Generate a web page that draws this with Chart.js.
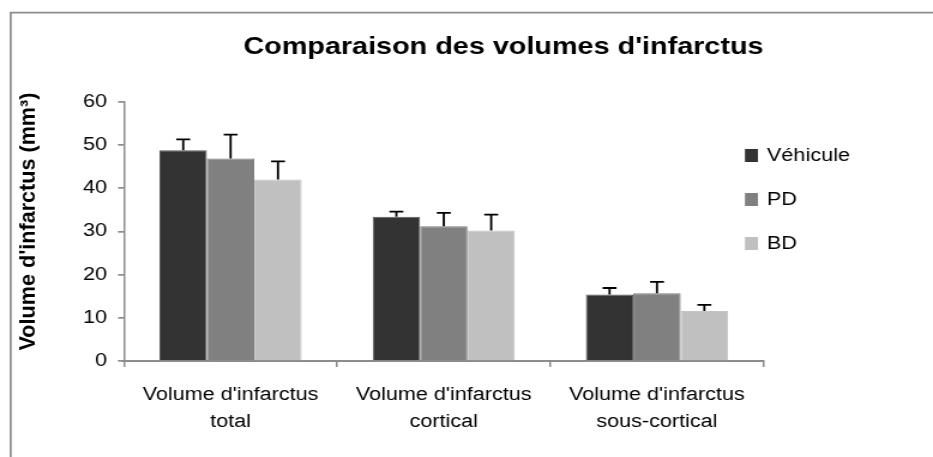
<!DOCTYPE html>
<html>
<head>
<meta charset="utf-8">
<script src="https://cdn.jsdelivr.net/npm/chart.js@4/dist/chart.umd.min.js"></script>
<style>
  html, body { margin: 0; padding: 0; background: #ffffff; }
</style>
</head>
<body>
<canvas id="chart" width="778" height="457" style="display:block;width:933px;height:457px"></canvas>
<script>
// Infarct volumes (mm³) per region and treatment group, with upper error bars
const categories = [
  ["Volume d'infarctus", 'total'],
  ["Volume d'infarctus", 'cortical'],
  ["Volume d'infarctus", 'sous-cortical']
];
const seriesNames = ['Véhicule', 'PD', 'BD'];
const vehiculeValues = [48.8, 33.4, 15.4];
const pdValues = [46.9, 31.2, 15.7];
const bdValues = [42.0, 30.2, 11.6];
const vehiculeErrors = [2.5, 1.2, 1.5];
const pdErrors = [5.5, 3.1, 2.6];
const bdErrors = [4.2, 3.7, 1.4];
const yTicks = [0, 10, 20, 30, 40, 50, 60];
const yAxisTitle = "Volume d'infarctus (mm³)";

const seriesColors = ['#333333', '#808080', '#c0c0c0'];
const seriesBorders = ['#5c5c5c', '#7a7a7a', '#c4c4c4'];
const axisGray = '#8c8c8c';
const FONT = "'Liberation Sans', Arial, Helvetica, sans-serif";
// The canvas is shown wider than its drawing buffer; this undoes it for rotated text
const X_STRETCH = 933 / 778;

Chart.defaults.font.family = FONT;
Chart.defaults.color = '#000000';

const valueSets = [vehiculeValues, pdValues, bdValues];
const errorSets = [vehiculeErrors, pdErrors, bdErrors];

const datasets = seriesNames.map((name, i) => ({
  label: name,
  data: valueSets[i],
  errors: errorSets[i],
  backgroundColor: seriesColors[i],
  borderColor: seriesBorders[i],
  borderWidth: 1,
  categoryPercentage: 0.667,
  barPercentage: 1.0
}));

// White background and the frame around the figure
const framePlugin = {
  id: 'frame',
  beforeDraw(chart) {
    const ctx = chart.ctx;
    ctx.save();
    ctx.fillStyle = '#ffffff';
    ctx.fillRect(0, 0, chart.width, chart.height);
    ctx.strokeStyle = axisGray;
    ctx.lineWidth = 1.7;
    ctx.beginPath();
    ctx.moveTo(8.9, chart.height + 5);
    ctx.lineTo(8.9, 12.7);
    ctx.lineTo(chart.width + 5, 12.7);
    ctx.stroke();
    ctx.restore();
  }
};

// Upper error bars: stem from the bar top to value + error, with a cap
const errorBarPlugin = {
  id: 'errorBars',
  afterDatasetsDraw(chart) {
    const ctx = chart.ctx;
    const yScale = chart.scales.y;
    ctx.save();
    ctx.strokeStyle = '#000000';
    ctx.lineWidth = 1.8;
    chart.data.datasets.forEach((ds, i) => {
      const meta = chart.getDatasetMeta(i);
      meta.data.forEach((bar, j) => {
        const top = yScale.getPixelForValue(ds.data[j] + ds.errors[j]);
        const cap = 5.8;
        ctx.beginPath();
        ctx.moveTo(bar.x, bar.y);
        ctx.lineTo(bar.x, top);
        ctx.moveTo(bar.x - cap, top);
        ctx.lineTo(bar.x + cap, top);
        ctx.stroke();
      });
    });
    ctx.restore();
  }
};

// Legend beside the last group and the rotated value-axis title
const sideTextPlugin = {
  id: 'sideText',
  afterDraw(chart) {
    const ctx = chart.ctx;
    ctx.save();
    ctx.font = '18px ' + FONT;
    ctx.textBaseline = 'middle';
    ctx.textAlign = 'left';
    chart.data.datasets.forEach((ds, i) => {
      const cy = 155.5 + i * 44;
      ctx.fillStyle = ds.backgroundColor;
      ctx.fillRect(621.2, cy - 6.5, 10.8, 13);
      ctx.fillStyle = '#000000';
      ctx.fillText(ds.label, 639.6, cy + 1);
    });
    ctx.restore();

    ctx.save();
    ctx.translate(23.6, 221.5);
    ctx.scale(1 / X_STRETCH, 1);
    ctx.rotate(-Math.PI / 2);
    ctx.font = 'bold 21.6px ' + FONT;
    ctx.fillStyle = '#000000';
    ctx.textAlign = 'center';
    ctx.textBaseline = 'middle';
    ctx.fillText(yAxisTitle, 0, 0);
    ctx.restore();
  }
};

new Chart(document.getElementById('chart'), {
  type: 'bar',
  data: { labels: categories, datasets: datasets },
  plugins: [framePlugin, errorBarPlugin, sideTextPlugin],
  options: {
    responsive: false,
    devicePixelRatio: 1,
    animation: false,
    layout: { padding: { left: 0, right: 141.3, top: 0, bottom: 0 } },
    plugins: {
      legend: { display: false },
      tooltip: { enabled: false },
      title: {
        display: true,
        text: "Comparaison des volumes d'infarctus",
        align: 'end',
        color: '#000000',
        font: { size: 24, weight: 'bold', family: FONT },
        padding: { top: 33, bottom: 40 }
      }
    },
    scales: {
      x: {
        afterFit(scale) { scale.height = 96; },
        grid: {
          display: true,
          drawOnChartArea: false,
          drawTicks: true,
          tickLength: 6,
          offset: true,
          color: axisGray,
          lineWidth: 1.5
        },
        border: { display: true, color: axisGray, width: 2 },
        ticks: {
          color: '#000000',
          font: { size: 18, family: FONT, lineHeight: 1.5 },
          padding: 15,
          maxRotation: 0,
          autoSkip: false
        }
      },
      y: {
        min: 0,
        max: 60,
        afterFit(scale) { scale.width = 103.4; },
        afterBuildTicks(scale) { scale.ticks = yTicks.map(v => ({ value: v })); },
        grid: {
          display: true,
          drawOnChartArea: false,
          drawTicks: true,
          tickLength: 5,
          color: axisGray,
          lineWidth: 1.7
        },
        border: { display: true, color: axisGray, width: 1.5 },
        ticks: {
          color: '#000000',
          font: { size: 18, family: FONT },
          padding: 9.2
        }
      }
    }
  }
});
</script>
</body>
</html>
